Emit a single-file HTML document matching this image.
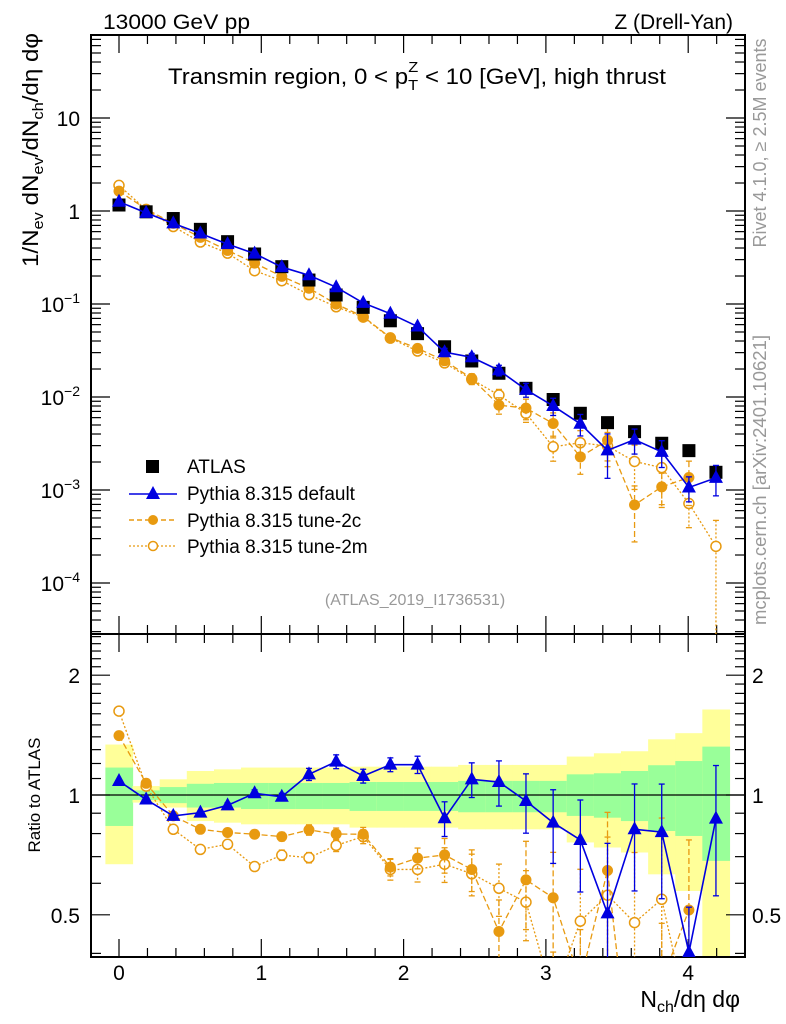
<!DOCTYPE html>
<html><head><meta charset="utf-8"><style>
html,body{margin:0;background:#fff;overflow:hidden;width:786px;height:1024px;}
svg{display:block;font-family:"Liberation Sans",sans-serif;}
</style></head><body>
<svg id="chart" width="786" height="1024" viewBox="0 0 786 1024">
<g id="bands"></g>
<g id="grid"></g>
<g id="series"></g>
<text x="103" y="29" font-size="21" textLength="147" lengthAdjust="spacingAndGlyphs">13000 GeV pp</text>
<text x="733" y="29" font-size="21" text-anchor="end">Z (Drell-Yan)</text>
<text x="168" y="84" font-size="22" textLength="498" lengthAdjust="spacingAndGlyphs">Transmin region, 0 &lt; p<tspan font-size="15" dy="6">T</tspan><tspan font-size="15" dx="-9" dy="-18">Z</tspan><tspan dy="12"> &lt; 10 [GeV], high thrust</tspan></text>
<text transform="translate(38,267) rotate(-90)" font-size="22" textLength="234" lengthAdjust="spacingAndGlyphs">1/N<tspan font-size="15" dy="5">ev</tspan><tspan dy="-5"> dN</tspan><tspan font-size="15" dy="5">ev</tspan><tspan dy="-5">/dN</tspan><tspan font-size="15" dy="5">ch</tspan><tspan dy="-5">/dη dφ</tspan></text>
<text transform="translate(40,795) rotate(-90)" font-size="17" text-anchor="middle">Ratio to ATLAS</text>
<text x="740" y="1007" font-size="23" text-anchor="end">N<tspan font-size="16" dy="5">ch</tspan><tspan dy="-5">/dη dφ</tspan></text>
<text transform="translate(766,143) rotate(-90)" font-size="18" fill="#999" text-anchor="middle">Rivet 4.1.0, ≥ 2.5M events</text>
<text transform="translate(766,480) rotate(-90)" font-size="18.5" fill="#999" text-anchor="middle">mcplots.cern.ch [arXiv:2401.10621]</text>
<text x="415" y="605" font-size="16" fill="#999" text-anchor="middle">(ATLAS_2019_I1736531)</text>
<g>
<rect x="146" y="460" width="13" height="13" fill="#000"/>
<text x="187" y="473" font-size="19">ATLAS</text>
<line x1="129" y1="494" x2="177" y2="494" stroke="#0000e0" stroke-width="1.5"/>
<polygon points="153,486 160,499 146,499" fill="#0000e0"/>
<text x="187" y="500" font-size="19">Pythia 8.315 default</text>
<line x1="129" y1="520" x2="177" y2="520" stroke="#e89a10" stroke-width="1.5" stroke-dasharray="5,3"/>
<circle cx="153" cy="520" r="5" fill="#e89a10"/>
<text x="187" y="527" font-size="19">Pythia 8.315 tune-2c</text>
<line x1="129" y1="546" x2="177" y2="546" stroke="#e89a10" stroke-width="1.2" stroke-dasharray="2,2"/>
<circle cx="153" cy="546" r="4.5" fill="#fff" stroke="#e89a10" stroke-width="1.5"/>
<text x="187" y="553" font-size="19">Pythia 8.315 tune-2m</text>
</g>
</svg>
<script>
const xCenters = [0,0.1907,0.3814,0.572,0.763,0.953,1.144,1.335,1.526,1.716,1.907,2.098,2.288,2.479,2.67,2.86,3.051,3.242,3.433,3.623,3.814,4.005,4.195];
const atlasValues = [1.16,0.98,0.83,0.635,0.468,0.345,0.252,0.181,0.125,0.092,0.066,0.048,0.0347,0.0244,0.018,0.0124,0.0094,0.00668,0.0053,0.00424,0.00318,0.00265,0.00155];
const ratioDefault = [1.084,0.974,0.886,0.903,0.942,1.01,0.99,1.127,1.213,1.116,1.192,1.192,0.874,1.095,1.078,0.966,0.852,0.771,0.504,0.82,0.807,0.402,0.872];
const ratioTune2c = [1.41,1.07,0.886,0.82,0.805,0.797,0.786,0.817,0.798,0.797,0.659,0.694,0.707,0.65,0.454,0.612,0.552,0.34,0.646,0.163,0.34,0.514,null];
const ratioTune2m = [1.625,1.053,0.82,0.73,0.752,0.661,0.706,0.696,0.747,0.786,0.65,0.65,0.67,0.634,0.583,0.538,0.31,0.482,0.56,0.478,0.547,0.27,0.16];
const errDefault = [0.01,0.01,0.01,0.01,0.015,0.02,0.02,0.035,0.04,0.04,0.04,0.05,0.1,0.1,0.13,0.17,0.21,0.26,0.5,0.3,0.32,0.3,0.36];
const errTune2c = [0.01,0.01,0.01,0.01,0.015,0.02,0.025,0.03,0.035,0.04,0.05,0.06,0.1,0.12,0.2,0.25,0.3,0.35,0.4,0.6,0.4,0.5,0];
const errTune2m = [0.01,0.01,0.01,0.01,0.02,0.02,0.03,0.03,0.035,0.04,0.06,0.07,0.1,0.12,0.15,0.2,0.3,0.35,0.4,0.5,0.6,0.45,0.9];
const yellowUp = [1.339,1.053,1.095,1.149,1.16,1.172,1.172,1.172,1.172,1.178,1.178,1.178,1.178,1.19,1.19,1.19,1.19,1.249,1.273,1.288,1.38,1.43,1.64];
const yellowDn = [0.67,0.957,0.93,0.86,0.852,0.844,0.844,0.844,0.844,0.828,0.828,0.828,0.828,0.82,0.82,0.82,0.82,0.76,0.738,0.717,0.632,0.574,0.35];
const greenUp = [1.172,1.027,1.047,1.067,1.072,1.072,1.072,1.072,1.072,1.078,1.078,1.078,1.078,1.085,1.085,1.085,1.085,1.127,1.134,1.149,1.188,1.217,1.323];
const greenDn = [0.836,0.972,0.954,0.93,0.93,0.922,0.922,0.922,0.922,0.912,0.912,0.912,0.912,0.905,0.905,0.905,0.905,0.886,0.877,0.86,0.812,0.789,0.683];
const xTicks = [0,1,2,3,4];
const ratioTicks = [0.5,1,2];

const NS='http://www.w3.org/2000/svg';
const L=91,R=745,T=35,MID=634,B=957;
const sx=v=>119+v*142.3;
const sy=v=>211-Math.log10(v)*93;
const ry=v=>795-Math.log10(v)*398;
const BLUE='#0000e0',ORG='#e89a10';
function mk(tag,attrs,parent){const e=document.createElementNS(NS,tag);for(const k in attrs)e.setAttribute(k,attrs[k]);parent.appendChild(e);return e;}
const gB=document.getElementById('bands'),gA=document.getElementById('grid'),gS=document.getElementById('series');
const defs=mk('defs',{},document.getElementById('chart'));
const c1=mk('clipPath',{id:'cTop'},defs);mk('rect',{x:L,y:T,width:R-L,height:MID-T},c1);
const c2=mk('clipPath',{id:'cBot'},defs);mk('rect',{x:L,y:MID,width:R-L,height:B-MID},c2);
gB.setAttribute('clip-path','url(#cBot)');
const hw=13.6;
xCenters.forEach((x,i)=>{
  const y=mk('rect',{x:sx(x)-hw,y:ry(yellowUp[i]),width:2*hw+0.5,height:ry(yellowDn[i])-ry(yellowUp[i]),fill:'#ffff99'},gB);
  
  
  const g=mk('rect',{x:sx(x)-hw,y:ry(greenUp[i]),width:2*hw+0.5,height:ry(greenDn[i])-ry(greenUp[i]),fill:'#99ff99'},gB);
  
  
});
mk('line',{x1:L,y1:ry(1),x2:R,y2:ry(1),stroke:'#000','stroke-width':1.2},gA);
mk('rect',{x:L,y:T,width:R-L,height:MID-T,fill:'none',stroke:'#000','stroke-width':2},gA);
mk('rect',{x:L,y:MID,width:R-L,height:B-MID,fill:'none',stroke:'#000','stroke-width':2},gA);
for(let v=-0.2;v<=4.4;v+=0.2){const X=sx(v);if(X<L||X>R)continue;const major=Math.abs(v-Math.round(v))<1e-6;const len=major?18:9;
 [[T,T+len],[MID,MID-len],[MID,MID+len],[B,B-len]].forEach(p=>mk('line',{x1:X,y1:p[0],x2:X,y2:p[1],stroke:'#000','stroke-width':1.2},gA));}
xTicks.forEach(v=>{const t=mk('text',{x:sx(v),y:980,'font-size':21,'text-anchor':'middle'},gA);t.textContent=v;
 
 });
for(let d=-5;d<=1;d++){for(let m=1;m<10;m++){const v=m*Math.pow(10,d);const Y=sy(v);if(Y<T||Y>MID)continue;const len=m==1?19:10;
 mk('line',{x1:L,y1:Y,x2:L+len,y2:Y,stroke:'#000','stroke-width':1.2},gA);mk('line',{x1:R,y1:Y,x2:R-len,y2:Y,stroke:'#000','stroke-width':1.2},gA);}}
const yl=[[10,'10'],[1,'1']];
yl.forEach(a=>{const t=mk('text',{x:80,y:sy(a[0])+8,'font-size':21,'text-anchor':'end'},gA);t.textContent=a[1];
 
 });
[-1,-2,-3,-4].forEach(e=>{const t=mk('text',{x:80,y:sy(Math.pow(10,e))+8,'font-size':21,'text-anchor':'end'},gA);
 t.innerHTML='10<tspan font-size="14" dy="-9">−'+(-e)+'</tspan>';
 
 });
for(let v=0.4;v<=2.6;v+=0.1){const Y=ry(v);if(Y<MID||Y>B)continue;const major=[0.5,1,2].some(m=>Math.abs(m-v)<1e-6);const len=major?19:10;
 mk('line',{x1:L,y1:Y,x2:L+len,y2:Y,stroke:'#000','stroke-width':1.2},gA);mk('line',{x1:R,y1:Y,x2:R-len,y2:Y,stroke:'#000','stroke-width':1.2},gA);}
ratioTicks.forEach(v=>{[[80,'end'],[752,'start']].forEach(p=>{const t=mk('text',{x:p[0],y:ry(v)+8,'font-size':21,'text-anchor':p[1]},gA);t.textContent=v;
 
 });});
function drawSeries(name,ratios,errs,color,dash,marker,clipId,yf,valFn){
 const g=mk('g',{'clip-path':'url(#'+clipId+')'},gS);
 
 
 let d='';let pen=false;
 ratios.forEach((r,i)=>{if(r==null){pen=false;return;}const v=valFn(r,i);d+=(pen?'L':'M')+sx(xCenters[i])+','+yf(v);pen=true;});
 mk('path',{d:d,fill:'none',stroke:color,'stroke-width':marker=='tri'?1.6:1.3,'stroke-dasharray':dash},g);
 ratios.forEach((r,i)=>{if(r==null)return;const v=valFn(r,i);const X=sx(xCenters[i]),Y=yf(v);const e=errs[i];
  const y1=yf(v*(1+e)),y2=yf(Math.max(v*(1-e),v*1e-3));
  if(Math.abs(y2-y1)>4){mk('line',{x1:X,y1:y1,x2:X,y2:y2,stroke:color,'stroke-width':1.3,'stroke-dasharray':dash},g);
   mk('line',{x1:X-3,y1:y1,x2:X+3,y2:y1,stroke:color,'stroke-width':1.3},g);mk('line',{x1:X-3,y1:y2,x2:X+3,y2:y2,stroke:color,'stroke-width':1.3},g);}
  let m;
  if(marker=='tri')m=mk('polygon',{points:(X)+','+(Y-8)+' '+(X+7)+','+(Y+5)+' '+(X-7)+','+(Y+5),fill:color},g);
  else if(marker=='dot')m=mk('circle',{cx:X,cy:Y,r:5.5,fill:color},g);
  else m=mk('circle',{cx:X,cy:Y,r:5,fill:'#fff',stroke:color,'stroke-width':1.5},g);
  
  
 });
}
const mainVal=(r,i)=>atlasValues[i]*r, ratVal=(r)=>r;
drawSeries('tune-2m-main',ratioTune2m,errTune2m,ORG,'2,2','open','cTop',sy,mainVal);
drawSeries('tune-2c-main',ratioTune2c,errTune2c,ORG,'6,3','dot','cTop',sy,mainVal);
const ga=mk('g',{'clip-path':'url(#cTop)'},gS);


atlasValues.forEach((v,i)=>{const s=mk('rect',{x:sx(xCenters[i])-6.5,y:sy(v)-6.5,width:13,height:13,fill:'#000'},ga);
 
 });
drawSeries('default-main',ratioDefault,errDefault,BLUE,'none','tri','cTop',sy,mainVal);
drawSeries('tune-2m-ratio',ratioTune2m,errTune2m,ORG,'2,2','open','cBot',ry,ratVal);
drawSeries('tune-2c-ratio',ratioTune2c,errTune2c,ORG,'6,3','dot','cBot',ry,ratVal);
drawSeries('default-ratio',ratioDefault,errDefault,BLUE,'none','tri','cBot',ry,ratVal);
</script>
</body></html>
